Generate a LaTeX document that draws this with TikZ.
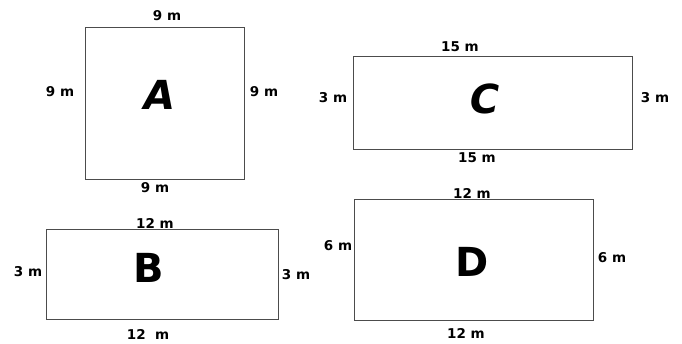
\documentclass[tikz,border=0pt]{standalone}
\usepackage{fontspec}
\setmainfont{DejaVu Sans}
\begin{document}
\begin{tikzpicture}[x=1pt,y=-1pt,
  field/.style={draw=black!70,line width=1.3pt,inner sep=0pt,anchor=north west},
  dim/.style={font=\fontsize{13.5}{15}\selectfont\bfseries,inner sep=0pt},
  big/.style={font=\fontsize{40}{44}\selectfont\bfseries,inner sep=0pt}]
\useasboundingbox (0,0) rectangle (682,343);
% A
\node[field,minimum width=159pt,minimum height=152pt] (A) at (85,27) {};
\node[big,xslant=0.18] (Al) at (160,95) {A};
\node[dim] (At) at (167,16) {9 m};
\node[dim] (Al2) at (60,92) {9 m};
\node[dim] (Ar) at (264,92) {9 m};
\node[dim] (Ab) at (155,188) {9 m};
% C
\node[field,minimum width=279pt,minimum height=93pt] (C) at (353,56) {};
\node[big,xslant=0.18] (Cl) at (485,99) {C};
\node[dim] (Ct) at (460,47) {15 m};
\node[dim] (Cl2) at (333,98) {3 m};
\node[dim] (Cr) at (655,98) {3 m};
\node[dim] (Cb) at (477,158) {15 m};
% B
\node[field,minimum width=232pt,minimum height=90pt] (B) at (46,229) {};
\node[big] (Bl) at (149,268) {B};
\node[dim] (Bt) at (155,223) {12 m};
\node[dim] (Bl2) at (28,272) {3 m};
\node[dim] (Br) at (296,275) {3 m};
\node[dim] (Bb) at (148,334) {12\ \ m};
% D
\node[field,minimum width=239pt,minimum height=121pt] (D) at (354,199) {};
\node[big] (Dl) at (472,262) {D};
\node[dim] (Dt) at (472,193) {12 m};
\node[dim] (Dl2) at (338,246) {6 m};
\node[dim] (Dr) at (612,258) {6 m};
\node[dim] (Db) at (466,333) {12 m};
\end{tikzpicture}
\end{document}
